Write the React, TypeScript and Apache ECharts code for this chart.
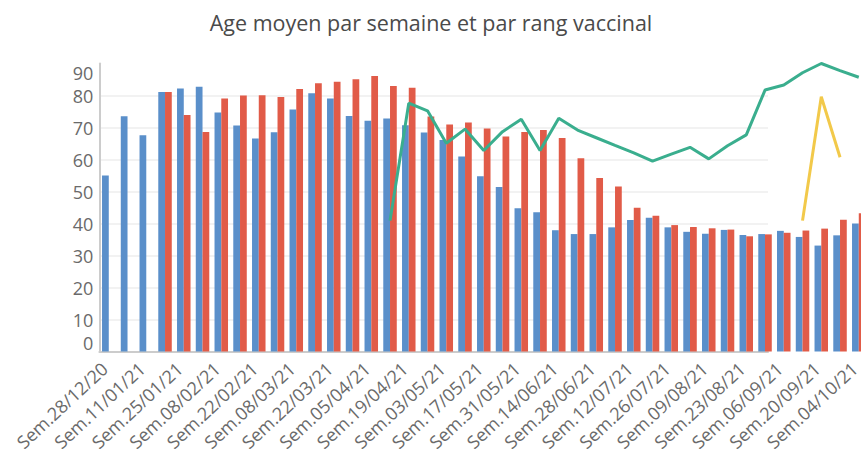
import React, { useEffect, useRef } from "react";
import * as echarts from "echarts";

const categories = [
  "Sem.28/12/20", "Sem.04/01/21", "Sem.11/01/21", "Sem.18/01/21", "Sem.25/01/21",
  "Sem.01/02/21", "Sem.08/02/21", "Sem.15/02/21", "Sem.22/02/21", "Sem.01/03/21",
  "Sem.08/03/21", "Sem.15/03/21", "Sem.22/03/21", "Sem.29/03/21", "Sem.05/04/21",
  "Sem.12/04/21", "Sem.19/04/21", "Sem.26/04/21", "Sem.03/05/21", "Sem.10/05/21",
  "Sem.17/05/21", "Sem.24/05/21", "Sem.31/05/21", "Sem.07/06/21", "Sem.14/06/21",
  "Sem.21/06/21", "Sem.28/06/21", "Sem.05/07/21", "Sem.12/07/21", "Sem.19/07/21",
  "Sem.26/07/21", "Sem.02/08/21", "Sem.09/08/21", "Sem.16/08/21", "Sem.23/08/21",
  "Sem.30/08/21", "Sem.06/09/21", "Sem.13/09/21", "Sem.20/09/21", "Sem.27/09/21",
  "Sem.04/10/21",
];

const dose1 = [
  55, 73.5, 67.6, 81.1, 82.2, 82.7, 74.7, 70.6, 66.6, 68.5,
  75.6, 80.7, 79.1, 73.6, 72.1, 72.8, 70.7, 68.4, 66.1, 60.9,
  54.8, 51.4, 44.8, 43.5, 37.9, 36.7, 36.7, 38.8, 41.1, 41.8,
  38.8, 37.4, 36.8, 38, 36.4, 36.7, 37.7, 35.8, 33.1, 36.3,
  40,
];

const dose2 = [
  null, null, null, 81.1, 73.9, 68.6, 79.1, 80, 80.1, 79.5,
  82, 83.8, 84.3, 85.1, 86.1, 83, 82.4, 73.4, 70.9, 71.6,
  69.7, 67.2, 68.6, 69.2, 66.7, 60.4, 54.2, 51.6, 44.9, 42.4,
  39.5, 38.9, 38.5, 38.1, 36, 36.6, 37.1, 37.8, 38.4, 41.2,
  43.2,
];

const dose3 = [
  null, null, null, null, null, null, null, null, null, null,
  null, null, null, null, null, 40.9, 77.6, 75.2, 65.1, 69.5,
  62.8, 68.7, 72.6, 62.8, 72.9, 69.2, 66.8, 64.4, 62.1, 59.5,
  61.7, 63.8, 60.2, 64.3, 67.7, 81.7, 83.3, 87.1, 90, 87.8,
  85.7,
];

const rappel = [
  null, null, null, null, null, null, null, null, null, null,
  null, null, null, null, null, null, null, null, null, null,
  null, null, null, null, null, null, null, null, null, null,
  null, null, null, null, null, null, null, 40.9, 79.6, 60.7,
  null,
];

const yTicks = { min: 0, max: 90, interval: 10 };

const FONT = "'Open Sans', 'Noto Sans', sans-serif";

export default function App() {
  const ref = useRef<HTMLDivElement>(null);

  useEffect(() => {
    if (!ref.current) return;
    const chart = echarts.init(ref.current, null, { renderer: "svg" });
    const option: any = {
      animation: false,
      backgroundColor: "#ffffff",
      textStyle: { fontFamily: FONT },
      graphic: [
        {
          type: "text",
          x: 431,
          y: 22,
          style: {
            text: "Age moyen par semaine et par rang vaccinal",
            align: "center",
            verticalAlign: "middle",
            fontFamily: FONT,
            fontSize: 21.5,
            fill: "#4a4a4a",
          },
        },
      ],
      grid: [
        { left: 99.4, top: 63.5, width: 768.75, height: 288, containLabel: false },
        { left: 99.4, top: 63.5, width: 668.6, height: 288, containLabel: false },
      ],
      xAxis: [
        {
          type: "category",
          gridIndex: 0,
          data: categories,
          axisLine: { show: false },
          axisTick: { show: false },
          axisLabel: {
            interval: 1,
            rotate: 43,
            margin: 10,
            padding: [0, 6, 0, 0],
            fontSize: 18,
            color: "#6a6a6a",
            fontFamily: FONT,
          },
          splitLine: { show: false },
        },
        {
          type: "value",
          gridIndex: 1,
          min: 0,
          max: 1,
          axisLine: { show: true, onZero: false, lineStyle: { color: "#cccccc", width: 2 } },
          axisTick: { show: false },
          axisLabel: { show: false },
          splitLine: { show: false },
        },
      ],
      yAxis: [
        {
          type: "value",
          gridIndex: 0,
          ...yTicks,
          axisLine: { show: true, lineStyle: { color: "#cccccc", width: 2 } },
          axisTick: { show: false },
          axisLabel: {
            margin: 6,
            fontSize: 18,
            color: "#6a6a6a",
            fontFamily: FONT,
            verticalAlignMinLabel: "bottom",
            verticalAlignMaxLabel: "top",
          },
          splitLine: { show: false },
        },
        {
          type: "value",
          gridIndex: 1,
          ...yTicks,
          axisLine: { show: false },
          axisTick: { show: false },
          axisLabel: { show: false },
          splitLine: {
            show: true,
            showMinLine: false,
            showMaxLine: false,
            lineStyle: { color: "#eeeeee", width: 1.5 },
          },
        },
      ],
      series: [
        {
          name: "1ère dose",
          type: "bar",
          xAxisIndex: 0,
          yAxisIndex: 0,
          data: dose1,
          barGap: "0%",
          barCategoryGap: "28%",
          itemStyle: { color: "#5a8fca" },
        },
        {
          name: "2ème dose",
          type: "bar",
          xAxisIndex: 0,
          yAxisIndex: 0,
          data: dose2,
          barGap: "0%",
          barCategoryGap: "28%",
          itemStyle: { color: "#e15b48" },
        },
        {
          name: "3ème dose",
          type: "line",
          xAxisIndex: 0,
          yAxisIndex: 0,
          data: dose3,
          showSymbol: false,
          symbol: "none",
          lineStyle: { color: "#3aae8e", width: 3 },
          z: 5,
        },
        {
          name: "Rappel",
          type: "line",
          xAxisIndex: 0,
          yAxisIndex: 0,
          data: rappel,
          showSymbol: false,
          symbol: "none",
          lineStyle: { color: "#f2c94a", width: 3 },
          z: 5,
        },
      ],
    };
    chart.setOption(option);
    return () => chart.dispose();
  }, []);

  return (
    <div
      style={{
        position: "fixed",
        left: 0,
        top: 0,
        width: 861,
        height: 458,
        overflow: "hidden",
        background: "#fff",
      }}
    >
      <div ref={ref} style={{ width: 880, height: 458 }} />
    </div>
  );
}
